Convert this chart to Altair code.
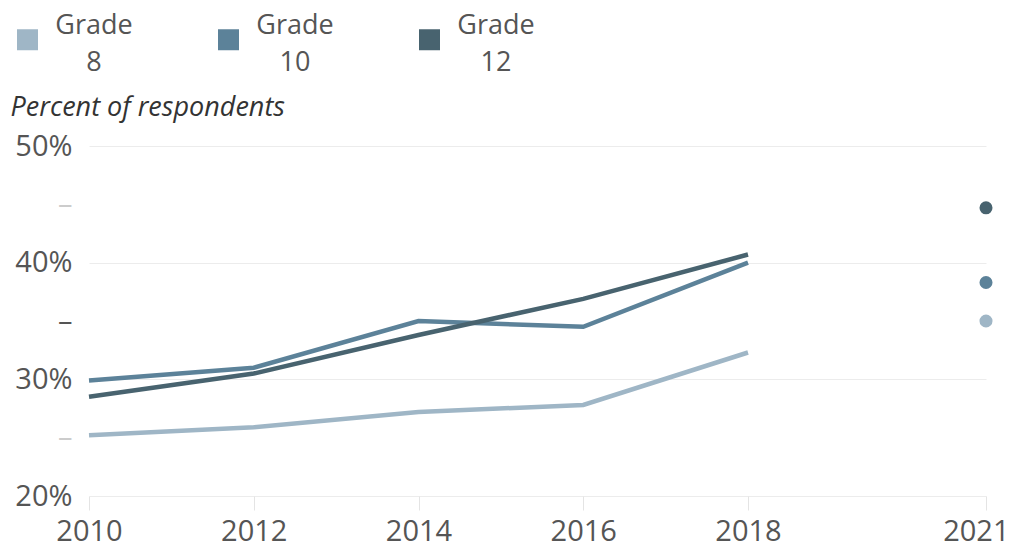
import altair as alt
import pandas as pd

years = [2010, 2012, 2014, 2016, 2018]
grade8 = [25.2, 25.9, 27.2, 27.8, 32.3]
grade10 = [29.9, 31.0, 35.0, 34.5, 40.0]
grade12 = [28.5, 30.5, 33.8, 36.9, 40.7]
year_2021 = 2021
pts_2021 = {"8": 35.0, "10": 38.3, "12": 44.7}
grades = ["8", "10", "12"]
colors = ["#9fb6c6", "#5c8299", "#48636f"]

rows = []
for g, vals in zip(grades, [grade8, grade10, grade12]):
    for y, v in zip(years, vals):
        rows.append({"year": y, "value": v, "grade": g})
line_df = pd.DataFrame(rows)
pt_df = pd.DataFrame([{"year": year_2021, "value": pts_2021[g], "grade": g} for g in grades])

FONT = "Open Sans, sans-serif"

xscale = alt.Scale(domain=[2010, 2018, 2021], range=[0, 659, 897])
yscale = alt.Scale(domain=[20, 50])
color = alt.Color(
    "grade:N",
    scale=alt.Scale(domain=grades, range=colors),
    sort=grades,
    legend=alt.Legend(
        title=None,
        orient="none",
        direction="horizontal",
        legendX=-75,
        legendY=-120,
        symbolType="square",
        symbolSize=441,
        symbolStrokeWidth=0,
        symbolOpacity=1,
        labelExpr="['Grade', datum.label]",
        labelAlign="center",
        labelBaseline="bottom",
        labelOffset=53,
        labelFontSize=27,
        labelFont=FONT,
        labelColor="#555555",
        columnPadding=82,
    ),
)

xaxis = alt.Axis(
    values=[2010, 2012, 2014, 2016, 2018, 2021],
    format="d",
    title=None,
    grid=False,
    domain=False,
    tickColor="#e4e4e4",
    tickSize=14,
    labelPadding=7,
    labelFontSize=29,
    labelFont=FONT,
    labelColor="#555555",
    labelFlush=False,
    labelAlign={"condition": {"test": "datum.value == 2021", "value": "right"}, "value": "center"},
    labelOffset={"condition": {"test": "datum.value == 2021", "value": 23}, "value": 0},
)
yaxis = alt.Axis(
    values=[20, 25, 30, 35, 40, 45, 50],
    labelExpr="datum.value % 10 == 0 ? datum.value + '%' : '\u2013\u00a0\u00a0'",
    title="Percent of respondents",
    titleAngle=0,
    titleAlign="left",
    titleBaseline="alphabetic",
    titleX=-79,
    titleY=-31,
    titleFont=FONT,
    titleFontSize=27,
    titleFontStyle="italic",
    titleFontWeight="normal",
    titleColor="#333333",
    domain=False,
    ticks=False,
    labelPadding=17,
    labelFontSize=29,
    labelFont=FONT,
    labelColor={"condition": {"test": "datum.value % 10 != 0 && datum.value != 35", "value": "#cccccc"}, "value": "#555555"},
    gridColor={"condition": {"test": "datum.value % 10 != 0", "value": "transparent"}, "value": "#ececec"},
    gridWidth=1,
)

lines = alt.Chart(line_df).mark_line(strokeWidth=4.5).encode(
    x=alt.X("year:Q", scale=xscale, axis=xaxis),
    y=alt.Y("value:Q", scale=yscale, axis=yaxis),
    color=color,
    detail="grade:N",
)
points = alt.Chart(pt_df).mark_circle(size=170, opacity=1).encode(
    x=alt.X("year:Q", scale=xscale),
    y=alt.Y("value:Q", scale=yscale),
    color=alt.Color("grade:N", scale=alt.Scale(domain=grades, range=colors), legend=None),
)

chart = (
    alt.layer(lines, points)
    .properties(
        width=906,
        height=350,
        autosize=alt.AutoSizeParams(type="none"),
        padding={"left": 81, "top": 138, "right": 15, "bottom": 50},
    )
    .configure(
        style={"guide-label": {"lineHeight": 37}},
        view=alt.ViewConfig(stroke=None),
    )
)

chart.save("out.html", embed_options={"renderer": "svg", "actions": False})
